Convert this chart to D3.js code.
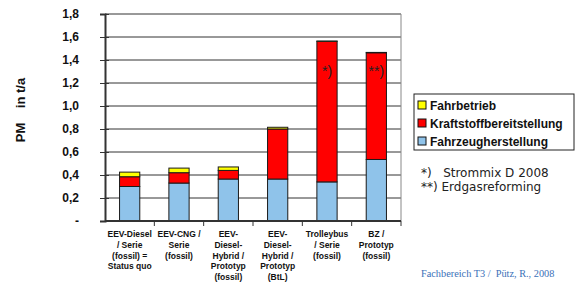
<!DOCTYPE html>
<html>
<head>
<meta charset="utf-8">
<script src="https://cdn.jsdelivr.net/npm/d3@7.9.0/dist/d3.min.js"></script>
<style>
  body { margin: 0; background: #fff; }
  svg { display: block; font-family: Arial, "Liberation Sans", sans-serif; }
</style>
</head>
<body>
<svg id="chart" width="583" height="282"></svg>
<script>
// data
const categories = [
  ["EEV-Diesel", "/ Serie", "(fossil) =", "Status quo"],
  ["EEV-CNG /", "Serie", "(fossil)"],
  ["EEV-", "Diesel-", "Hybrid /", "Prototyp", "(fossil)"],
  ["EEV-", "Diesel-", "Hybrid /", "Prototyp", "(BtL)"],
  ["Trolleybus", "/ Serie", "(fossil)"],
  ["BZ /", "Prototyp", "(fossil)"]
];
const fahrzeugherstellung = [0.30, 0.33, 0.365, 0.365, 0.34, 0.535];
const kraftstoffbereitstellung = [0.085, 0.09, 0.075, 0.435, 1.222, 0.928];
const fahrbetrieb = [0.04, 0.04, 0.03, 0.015, 0.003, 0.003];
const seriesNames = ["Fahrzeugherstellung", "Kraftstoffbereitstellung", "Fahrbetrieb"];
const seriesColors = ["#8fc3ea", "#ff0000", "#ffff00"];
const yTicks = [0, 0.2, 0.4, 0.6, 0.8, 1.0, 1.2, 1.4, 1.6, 1.8];
const barNotes = ["", "", "", "", "*)", "**)"];
const footnotes = ["*)   Strommix D 2008", "**) Erdgasreforming"];

const svg = d3.select("#chart");
const plot = { left: 105, right: 401, top: 14, bottom: 221 };

const x = d3.scaleBand()
  .domain(d3.range(categories.length))
  .range([plot.left, plot.right])
  .paddingInner(0.59)
  .paddingOuter(0.295);
const xCat = d3.scaleBand().domain(d3.range(categories.length)).range([plot.left, plot.right]);
const y = d3.scaleLinear().domain([0, 1.8]).range([plot.bottom, plot.top]);

// gridlines
svg.append("g").selectAll("line")
  .data(yTicks.slice(1))
  .join("line")
  .attr("x1", plot.left).attr("x2", plot.right)
  .attr("y1", d => y(d)).attr("y2", d => y(d))
  .attr("stroke", "#333").attr("stroke-width", 1);

// right border
svg.append("line")
  .attr("x1", plot.right).attr("x2", plot.right)
  .attr("y1", plot.top).attr("y2", plot.bottom)
  .attr("stroke", "#888").attr("stroke-width", 1);

// stacked bars
const rows = categories.map((c, i) => ({
  Fahrzeugherstellung: fahrzeugherstellung[i],
  Kraftstoffbereitstellung: kraftstoffbereitstellung[i],
  Fahrbetrieb: fahrbetrieb[i]
}));
const stacked = d3.stack().keys(seriesNames)(rows);

svg.append("g").selectAll("g")
  .data(stacked)
  .join("g")
  .attr("fill", (d, i) => seriesColors[i])
  .selectAll("rect")
  .data(d => d)
  .join("rect")
  .attr("x", (d, i) => x(i))
  .attr("width", x.bandwidth())
  .attr("y", d => y(d[1]))
  .attr("height", d => y(d[0]) - y(d[1]))
  .attr("stroke", "#1a1a1a")
  .attr("stroke-width", 1);

// notes inside bars
svg.append("g").selectAll("text")
  .data(barNotes)
  .join("text")
  .attr("x", (d, i) => x(i) + x.bandwidth() / 2)
  .attr("y", y(1.26))
  .attr("text-anchor", "middle")
  .attr("font-size", 14)
  .attr("fill", "#222")
  .text(d => d);

// y axis
const yAxis = d3.axisLeft(y)
  .tickValues(yTicks)
  .tickSize(5)
  .tickPadding(21)
  .tickFormat(d => d === 0 ? "-" : d3.format(".1f")(d).replace(".", ","));
const gy = svg.append("g").attr("transform", `translate(${plot.left},0)`).call(yAxis);
gy.select(".domain").attr("stroke", "#333").attr("stroke-width", 2);
gy.selectAll(".tick line").attr("stroke", "#333").attr("x1", 4);
gy.selectAll(".tick text").attr("font-size", 12).attr("font-weight", "bold").attr("fill", "#111");

// x axis
const gx = svg.append("g").attr("transform", `translate(0,${plot.bottom})`);
gx.append("line")
  .attr("x1", plot.left).attr("x2", plot.right)
  .attr("stroke", "#333").attr("stroke-width", 2);
gx.selectAll(".sep")
  .data(d3.range(1, categories.length + 1))
  .join("line")
  .attr("class", "sep")
  .attr("x1", i => xCat(i - 1) + xCat.bandwidth())
  .attr("x2", i => xCat(i - 1) + xCat.bandwidth())
  .attr("y1", 0).attr("y2", 5)
  .attr("stroke", "#333");
gx.selectAll("text")
  .data(categories)
  .join("text")
  .attr("text-anchor", "middle")
  .attr("font-size", 8.5)
  .attr("font-weight", "bold")
  .attr("fill", "#111")
  .attr("transform", (d, i) => `translate(${xCat(i) + xCat.bandwidth() / 2},16)`)
  .selectAll("tspan")
  .data(d => d)
  .join("tspan")
  .attr("x", 0)
  .attr("y", (d, j) => j * 10.8)
  .text(d => d);

// y label
svg.append("text")
  .attr("transform", "translate(25,110) rotate(-90)")
  .attr("text-anchor", "middle")
  .attr("font-size", 13)
  .attr("font-weight", "bold")
  .attr("fill", "#111")
  .attr("xml:space", "preserve")
  .text("PM    in t/a");

// legend
const legend = svg.append("g").attr("transform", "translate(414,94)");
legend.append("rect")
  .attr("width", 160).attr("height", 56)
  .attr("fill", "#fff").attr("stroke", "#222").attr("stroke-width", 1);
const legendItems = seriesNames.map((n, i) => ({ name: n, color: seriesColors[i] })).reverse();
const li = legend.selectAll(".item")
  .data(legendItems)
  .join("g")
  .attr("class", "item")
  .attr("transform", (d, i) => `translate(4,${11 + i * 18})`);
li.append("rect")
  .attr("x", 0).attr("y", -4).attr("width", 8).attr("height", 8)
  .attr("fill", d => d.color).attr("stroke", "#111");
li.append("text")
  .attr("x", 12).attr("y", 4.5)
  .attr("font-size", 12).attr("font-weight", "bold").attr("fill", "#111")
  .text(d => d.name);

// footnotes
svg.append("g").selectAll("text")
  .data(footnotes)
  .join("text")
  .attr("x", 421)
  .attr("y", (d, i) => 177 + i * 14)
  .attr("font-family", "'DejaVu Sans', Verdana, sans-serif")
  .attr("font-size", 12)
  .attr("fill", "#222")
  .attr("xml:space", "preserve")
  .text(d => d);

// source
svg.append("text")
  .attr("x", 421).attr("y", 277)
  .attr("font-family", "'Liberation Serif', 'Times New Roman', serif")
  .attr("font-size", 10.3)
  .attr("fill", "#3a70b8")
  .attr("xml:space", "preserve")
  .text("Fachbereich T3 /  Pütz, R., 2008");
</script>
</body>
</html>
